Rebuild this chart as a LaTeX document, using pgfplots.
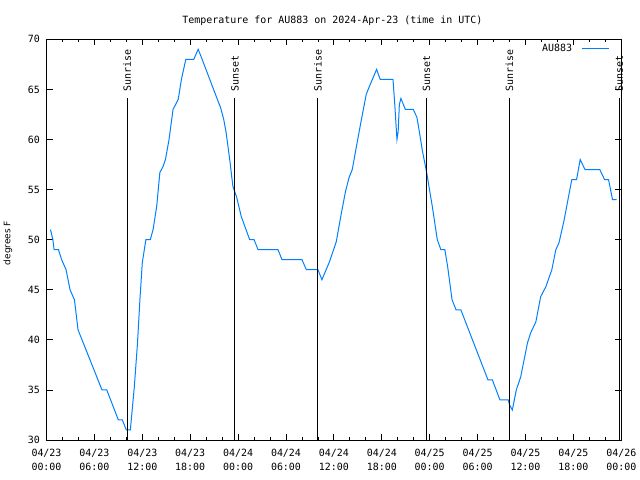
\documentclass[border=0pt]{standalone}
\usepackage{fontspec}
\usepackage{pgfplots}
\pgfplotsset{compat=1.18}
\newfontfamily\mono{DejaVu Sans Mono}
\newfontfamily\sans{DejaVu Sans}
\definecolor{temp}{RGB}{0,128,255}
\begin{document}
\begin{tikzpicture}[font=\mono\fontsize{10}{13.5}\selectfont]
\useasboundingbox (0,0) rectangle (640bp,480bp);
\begin{axis}[
    at={(46.5bp,40bp)}, anchor=south west,
    width=574.8bp, height=400.7bp, scale only axis,
    xmin=0, xmax=72, ymin=30, ymax=70,
    xtick={0,6,...,72}, minor x tick num=2,
    ytick={30,35,...,70},
    xticklabels={{04/23\\00:00},{04/23\\06:00},{04/23\\12:00},{04/23\\18:00},
                 {04/24\\00:00},{04/24\\06:00},{04/24\\12:00},{04/24\\18:00},
                 {04/25\\00:00},{04/25\\06:00},{04/25\\12:00},{04/25\\18:00},
                 {04/26\\00:00}},
    xticklabel style={align=center, yshift=-6bp},
    yticklabel style={xshift=-3bp},
    /pgf/number format/assume math mode=true,
    tick align=inside,
    major tick length=6bp, minor tick length=3bp,
    tick style={black, line width=0.8bp},
    axis line style={black, line width=1bp},
    clip=false,
    legend style={draw=none, fill=none, at={(0.979,0.976)}, anchor=east,
                  inner sep=0pt, font=\mono\fontsize{10}{12}\selectfont},
    legend plot pos=right, legend cell align=right,
    legend image code/.code={\path (0bp,0bp); \draw[#1] (7bp,0bp) -- (34bp,0bp);},
]
\addplot[temp, line width=1bp] coordinates {
(0.5,51) (0.8,50) (0.95,49) (1.5,49) (1.9,48) (2.45,47) (2.95,45) (3.5,44)
(3.95,41) (6.95,35) (7.55,35) (9.0,32) (9.5,32) (10.0,31) (10.5,31)
(10.7,32.7) (11.0,35.3) (11.4,39.7) (11.7,44) (12.0,47.7) (12.45,50) (13.0,50)
(13.35,51) (13.8,53.3) (14.2,56.7) (14.6,57.3) (14.9,58) (15.35,60) (15.85,63)
(16.5,64) (16.9,66) (17.45,68) (18.45,68) (19.0,69) (19.4,68.2) (20.45,66)
(21.5,63.8) (21.8,63.2) (22.2,62) (22.5,60.7) (22.95,58) (23.35,55.3)
(23.8,54.3) (24.4,52.3) (25.45,50) (26.0,50) (26.5,49) (29.0,49) (29.5,48)
(32.0,48) (32.55,47) (34.0,47) (34.5,46) (35.45,47.8) (36.3,49.8) (36.9,52.5)
(37.45,54.8) (37.9,56.2) (38.3,57) (38.8,59.2) (39.4,61.8) (40.05,64.5)
(40.45,65.3) (41.35,67) (41.8,66) (43.4,66) (43.6,63.8) (43.9,60) (44.05,60.8)
(44.2,63.5) (44.4,64.1) (44.95,63) (45.95,63) (46.4,62.2) (46.7,60.8)
(47.1,58.8) (47.6,56.8) (48.35,53.2) (48.95,50) (49.4,49) (49.9,49)
(50.25,47.3) (50.8,44) (51.3,43) (51.9,43) (55.3,36) (55.85,36) (56.8,34)
(57.85,34) (58.0,33.5) (58.35,33) (58.85,35) (59.4,36.3) (60.25,39.7)
(60.65,40.7) (61.3,41.8) (61.9,44.3) (62.55,45.3) (63.3,47) (63.8,49)
(64.2,49.7) (64.85,52) (65.25,53.7) (65.8,56) (66.4,56) (66.85,58) (67.45,57)
(69.3,57) (69.9,56) (70.4,56) (70.9,54) (71.4,54)
};
\addlegendentry{AU883}
% sunrise / sunset markers
\addplot[black, line width=1bp, forget plot] coordinates {(10.1,30) (10.1,64.1)};
\addplot[black, line width=1bp, forget plot] coordinates {(23.6,30) (23.6,64.1)};
\addplot[black, line width=1bp, forget plot] coordinates {(34.0,30) (34.0,64.1)};
\addplot[black, line width=1bp, forget plot] coordinates {(47.6,30) (47.6,64.1)};
\addplot[black, line width=1bp, forget plot] coordinates {(58.0,30) (58.0,64.1)};
\addplot[black, line width=1bp, forget plot] coordinates {(71.75,30) (71.75,64.1)};
\node[rotate=90, anchor=west, inner sep=0pt] at (axis cs:10.1,64.8) {Sunrise};
\node[rotate=90, anchor=west, inner sep=0pt] at (axis cs:23.6,64.8) {Sunset};
\node[rotate=90, anchor=west, inner sep=0pt] at (axis cs:34.0,64.8) {Sunrise};
\node[rotate=90, anchor=west, inner sep=0pt] at (axis cs:47.6,64.8) {Sunset};
\node[rotate=90, anchor=west, inner sep=0pt] at (axis cs:58.0,64.8) {Sunrise};
\node[rotate=90, anchor=west, inner sep=0pt] at (axis cs:71.75,64.8) {Sunset};
\end{axis}
\node[anchor=base] at (332.4bp,456bp) {Temperature for AU883 on 2024-Apr-23 (time in UTC)};
\node[rotate=90, font=\sans\fontsize{9}{11}\selectfont] at (8bp,237bp) {degrees F};
\end{tikzpicture}
\end{document}
